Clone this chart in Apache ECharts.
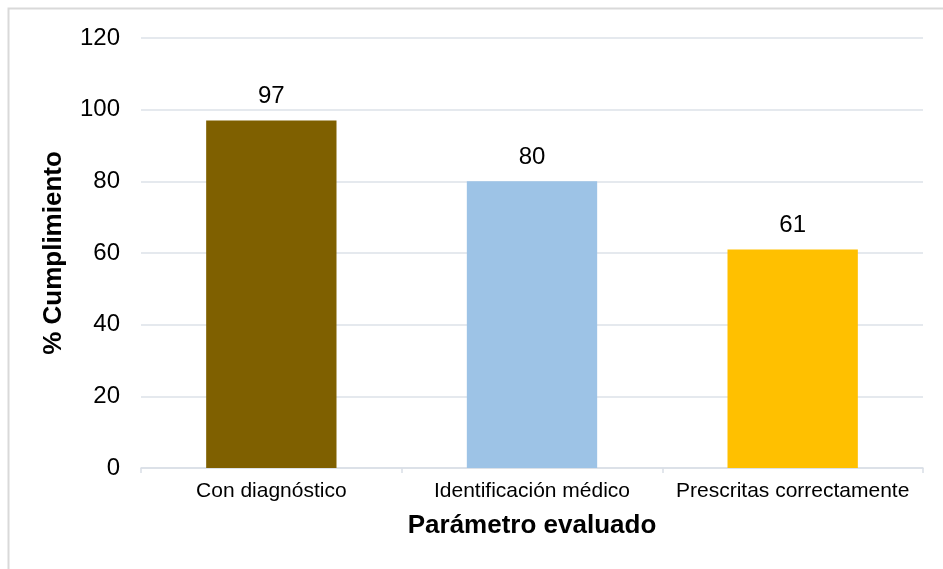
<!DOCTYPE html>
<html><head><meta charset="utf-8">
<script src="https://cdn.jsdelivr.net/npm/echarts@6/dist/echarts.min.js"></script>
<style>html,body{margin:0;padding:0;background:#fff}#c{width:943px;height:569px}</style>
</head><body><div id="c"></div>
<script>
var categories = ["Con diagnóstico", "Identificación médico", "Prescritas correctamente"];
var values = [97, 80, 61];
var barColors = ["#7F6000", "#9DC3E6", "#FFC000"];
var yTicks = [0, 20, 40, 60, 80, 100, 120];

var chart = echarts.init(document.getElementById('c'));
var FONT = 'Liberation Sans, Arial, sans-serif';
chart.setOption({
  animation: false,
  graphic: [{type:'rect', shape:{x:8.5,y:8.5,width:1200,height:1200}, style:{fill:'none', stroke:'#d9d9d9', lineWidth:2}, silent:true}],
  grid: {left:141, right:20, top:38, bottom:101},
  xAxis: {
    type:'category', data: categories,
    name:'Parámetro evaluado', nameLocation:'middle', nameGap:45,
    nameTextStyle:{fontFamily:FONT, fontSize:26, fontWeight:'bold', color:'#000'},
    axisLine:{lineStyle:{color:'#d9dee6', width:1.5}},
    axisTick:{show:true, interval:0, length:5, lineStyle:{color:'#d9dee6', width:1.5}},
    axisLabel:{interval:0, fontFamily:FONT, fontSize:21, color:'#000', margin:13}
  },
  yAxis: {
    type:'value', min:yTicks[0], max:yTicks[yTicks.length-1], interval:20,
    name:'% Cumplimiento', nameLocation:'middle', nameGap:74,
    nameTextStyle:{fontFamily:FONT, fontSize:26, fontWeight:'bold', color:'#000'},
    axisLine:{show:false}, axisTick:{show:false},
    axisLabel:{fontFamily:FONT, fontSize:24, color:'#000', margin:21},
    splitLine:{lineStyle:{color:'#dde2e8', width:1.5}}
  },
  series: [{
    type:'bar', barWidth:'50%',
    data: values.map(function(v,i){return {value:v, itemStyle:{color:barColors[i]}};}),
    label:{show:true, position:'top', distance:12, fontFamily:FONT, fontSize:24, color:'#000'}
  }]
});
</script></body></html>
